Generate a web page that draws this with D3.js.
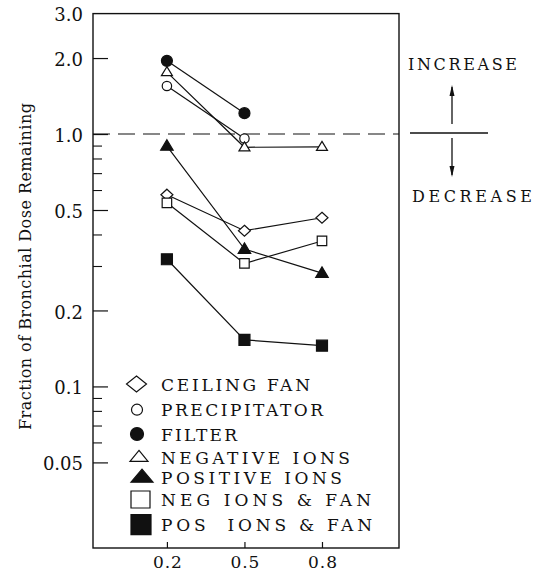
<!DOCTYPE html>
<html>
<head>
<meta charset="utf-8">
<script src="https://cdn.jsdelivr.net/npm/d3@7"></script>
<style>
  html, body { margin: 0; padding: 0; background: #fff; }
  svg { display: block; }
  svg text { fill: #111; }
</style>
</head>
<body>
<svg id="chart" width="541" height="574"></svg>
<script>
// ---- data ----
const doses = [0.2, 0.5, 0.8];
const seriesNames = ["CEILING FAN", "PRECIPITATOR", "FILTER", "NEGATIVE IONS", "POSITIVE IONS", "NEG IONS & FAN", "POS\u00a0 IONS & FAN"];
const ceilingFan   = [0.575, 0.414, 0.466];
const precipitator = [1.55, 0.96];
const filterVals   = [1.95, 1.21];
const negativeIons = [1.76, 0.886, 0.890];
const positiveIons = [0.896, 0.350, 0.281];
const negIonsFan   = [0.534, 0.307, 0.377];
const posIonsFan   = [0.319, 0.153, 0.145];
const yMajorTicks  = [2.0, 1.0, 0.5, 0.2, 0.1, 0.05];
const yMajorLabels = ["2.0", "1.0", "0.5", "0.2", "0.1", "0.05"];
const yTopLabel    = "3.0";
const yMinorTicks  = [0.9, 0.8, 0.7, 0.6, 0.4, 0.3, 0.09, 0.08, 0.07, 0.06];
const xTicks       = [0.2, 0.5, 0.8];
const xTickLabels  = ["0.2", "0.5", "0.8"];
const yTitle = "Fraction of Bronchial Dose Remaining";
const upLabel = "INCREASE";
const downLabel = "DECREASE";

// ---- layout ----
const L = 93, R = 399, T = 13.6, B = 548;
const FONT = "DejaVu Serif";
const svg = d3.select("#chart");
const x = d3.scaleLinear().domain([-0.086, 1.098]).range([L, R]);
const y = d3.scaleLog().domain([0.0229, 3.0]).range([B, T]);

function shapePath(kind, w, h) {
  const a = w / 2, b = h / 2;
  switch (kind) {
    case "diamond": return `M0,${-b}L${a},0L0,${b}L${-a},0Z`;
    case "triangle": return `M0,${-h * 0.6}L${a},${h * 0.4}L${-a},${h * 0.4}Z`;
    case "square": return `M${-a},${-b}H${a}V${b}H${-a}Z`;
    case "circle": return `M${-a},0A${a},${a} 0 1,0 ${a},0A${a},${a} 0 1,0 ${-a},0Z`;
  }
}

const series = [
  { name: seriesNames[0], values: ceilingFan,   kind: "diamond",  filled: false, w: 12, h: 11, lw: 20, lh: 16 },
  { name: seriesNames[1], values: precipitator, kind: "circle",   filled: false, w: 9.4, h: 9.4, lw: 11, lh: 11 },
  { name: seriesNames[2], values: filterVals,   kind: "circle",   filled: true,  w: 11, h: 11, lw: 13, lh: 13 },
  { name: seriesNames[3], values: negativeIons, kind: "triangle", filled: false, w: 11, h: 9, lw: 18, lh: 11 },
  { name: seriesNames[4], values: positiveIons, kind: "triangle", filled: true,  w: 12.5, h: 10.5, lw: 22, lh: 13 },
  { name: seriesNames[5], values: negIonsFan,   kind: "square",   filled: false, w: 9.5, h: 9.5, lw: 19, lh: 17 },
  { name: seriesNames[6], values: posIonsFan,   kind: "square",   filled: true,  w: 11, h: 11, lw: 20, lh: 20 }
];

svg.append("rect").attr("x", L).attr("y", T).attr("width", R - L).attr("height", B - T)
  .attr("fill", "none").attr("stroke", "#111").attr("stroke-width", 1.4);

const yAxisMajor = d3.axisLeft(y).tickValues(yMajorTicks)
  .tickFormat((d, i) => yMajorLabels[i]).tickSizeInner(-15).tickSizeOuter(0).tickPadding(10);
const gyMaj = svg.append("g").attr("transform", `translate(${L},0)`).call(yAxisMajor);
gyMaj.attr("font-family", FONT);
gyMaj.select(".domain").remove();
gyMaj.selectAll("line").attr("stroke", "#111").attr("stroke-width", 1.2);
gyMaj.selectAll("text").attr("font-size", 18).attr("dy", "0.42em").attr("fill", "#111");

const yAxisMinor = d3.axisLeft(y).tickValues(yMinorTicks).tickFormat("").tickSizeInner(-9).tickSizeOuter(0);
const gyMin = svg.append("g").attr("transform", `translate(${L},0)`).call(yAxisMinor);
gyMin.select(".domain").remove();
gyMin.selectAll("line").attr("stroke", "#111").attr("stroke-width", 1.1);

svg.append("text").attr("x", L - 10).attr("y", y(3.0) + 7).attr("text-anchor", "end")
  .attr("font-family", FONT).attr("font-size", 18).text(yTopLabel);

const xAxis = d3.axisBottom(x).tickValues(xTicks).tickFormat((d, i) => xTickLabels[i])
  .tickSizeInner(-6).tickSizeOuter(0).tickPadding(8);
const gx = svg.append("g").attr("transform", `translate(0,${B})`).call(xAxis);
gx.attr("font-family", FONT);
gx.select(".domain").remove();
gx.selectAll("line").attr("stroke", "#111").attr("stroke-width", 1.2);
gx.selectAll("text").attr("font-size", 17).attr("textLength", 29).attr("lengthAdjust", "spacing").attr("fill", "#111");

svg.append("text").attr("transform", `translate(31,266.5) rotate(-90)`)
  .attr("text-anchor", "middle").attr("font-size", 16).attr("font-family", FONT)
  .attr("textLength", 327).attr("lengthAdjust", "spacing").text(yTitle);

svg.append("line").attr("x1", L).attr("x2", R).attr("y1", y(1)).attr("y2", y(1))
  .attr("stroke", "#111").attr("stroke-width", 1.2).attr("stroke-dasharray", "17,8");

const ay = y(1) - 1;
svg.append("line").attr("x1", 410).attr("x2", 488).attr("y1", ay).attr("y2", ay)
  .attr("stroke", "#111").attr("stroke-width", 1.3);
svg.append("line").attr("x1", 452).attr("x2", 452).attr("y1", ay - 9).attr("y2", ay - 46)
  .attr("stroke", "#111").attr("stroke-width", 1.3);
svg.append("path").attr("d", `M452,${ay - 48}L454.5,${ay - 37}L449.5,${ay - 37}Z`).attr("fill", "#111");
svg.append("line").attr("x1", 452).attr("x2", 452).attr("y1", ay + 5).attr("y2", ay + 42)
  .attr("stroke", "#111").attr("stroke-width", 1.3);
svg.append("path").attr("d", `M452,${ay + 44}L454.5,${ay + 33}L449.5,${ay + 33}Z`).attr("fill", "#111");
svg.append("text").attr("x", 408).attr("y", 70).attr("font-size", 16).attr("font-family", FONT)
  .attr("textLength", 109).attr("lengthAdjust", "spacing").text(upLabel);
svg.append("text").attr("x", 412).attr("y", 202).attr("font-size", 16).attr("font-family", FONT)
  .attr("textLength", 120).attr("lengthAdjust", "spacing").text(downLabel);

const line = d3.line().x((d, i) => x(doses[i])).y(d => y(d));
series.forEach(s => {
  svg.append("path").datum(s.values).attr("d", line)
    .attr("fill", "none").attr("stroke", "#111").attr("stroke-width", 1.2);
});
series.forEach(s => {
  svg.selectAll(null).data(s.values).enter().append("path")
    .attr("d", shapePath(s.kind, s.w, s.h))
    .attr("transform", (d, i) => `translate(${x(doses[i])},${y(d)})`)
    .attr("fill", s.filled ? "#111" : "#fff").attr("stroke", "#111").attr("stroke-width", 1.2);
});

const legendCenters = [[136.5, 384], [137, 409.7], [137, 434], [139, 457], [142, 477], [140.5, 499.5], [141, 524.7]];
const legendWidths = [149, 162, 76, 189, 181, 210, 211];
series.forEach((s, i) => {
  const [cx, cy] = legendCenters[i];
  svg.append("path").attr("d", shapePath(s.kind, s.lw, s.lh))
    .attr("transform", `translate(${cx},${cy})`)
    .attr("fill", s.filled ? "#111" : "#fff").attr("stroke", "#111").attr("stroke-width", 1.2);
  svg.append("text").attr("x", 161).attr("y", cy + 6.5).attr("font-size", 17).attr("font-family", FONT)
    .attr("textLength", legendWidths[i]).attr("lengthAdjust", "spacing")
    .style("white-space", "pre").text(s.name);
});
</script>
</body>
</html>
